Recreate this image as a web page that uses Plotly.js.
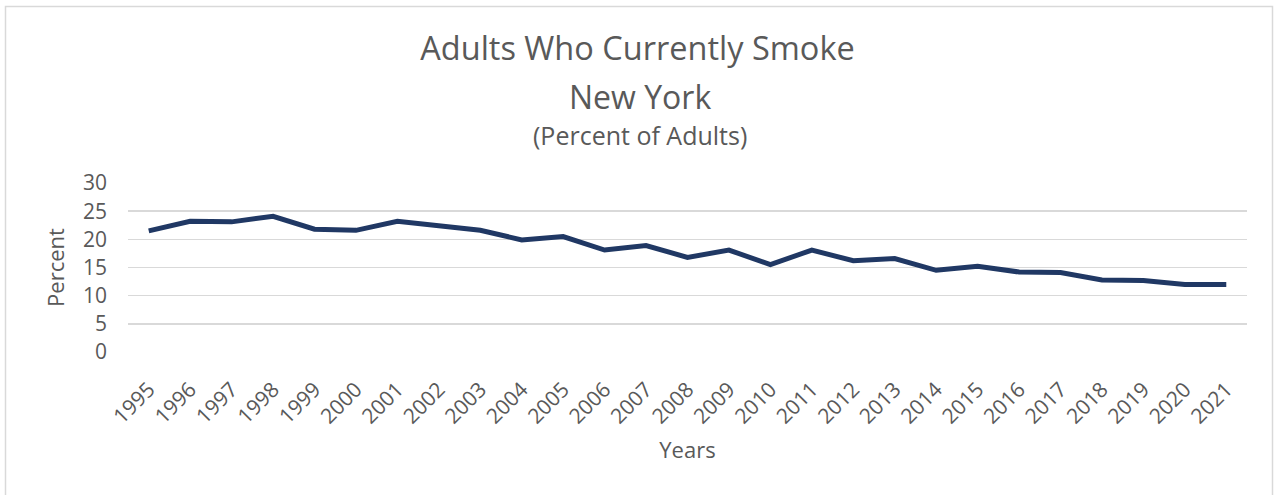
<!DOCTYPE html>
<html>
<head>
<meta charset="utf-8">
<script src="https://cdn.plot.ly/plotly-3.0.1.min.js"></script>
<style>html,body{margin:0;padding:0;background:#fff;}#chart{width:1275px;height:495px;}</style>
</head>
<body>
<div id="chart"></div>
<script>
const years = ["1995","1996","1997","1998","1999","2000","2001","2002","2003","2004","2005","2006","2007","2008","2009","2010","2011","2012","2013","2014","2015","2016","2017","2018","2019","2020","2021"];
const percentSmoking = [21.5,23.2,23.1,24.1,21.8,21.6,23.2,22.3,21.6,19.9,20.5,18.1,18.9,16.8,18.1,15.5,18.1,16.2,16.6,14.5,15.2,14.2,14.1,12.8,12.7,12.0,12.0];
const yTicks = [0,5,10,15,20,25,30];

const font = "'Open Sans', 'Liberation Sans', sans-serif";
const grey = "#595959";

const trace = {
  type: "scatter",
  mode: "lines",
  x: years,
  y: percentSmoking,
  line: {color: "#203864", width: 5},
  hoverinfo: "x+y"
};

const cx = (640 - 128) / 1119;

const layout = {
  width: 1275,
  height: 495,
  margin: {l: 128, r: 28, t: 183, b: 143},
  paper_bgcolor: "#ffffff",
  plot_bgcolor: "#ffffff",
  showlegend: false,
  font: {family: font, color: grey},
  title: {
    text: "Adults Who Currently Smoke",
    font: {family: font, size: 32.5, color: grey},
    x: 0.5, xref: "container", xanchor: "center",
    y: 1 - 49/495, yref: "container", yanchor: "middle"
  },
  annotations: [
    {text: "New York", xref: "paper", yref: "paper", x: cx, y: (352-95)/170, xanchor: "center", yanchor: "middle", showarrow: false, font: {family: font, size: 32, color: grey}},
    {text: "(Percent of Adults)", xref: "paper", yref: "paper", x: cx, y: (352-134)/170, xanchor: "center", yanchor: "middle", showarrow: false, font: {family: font, size: 25, color: grey}}
  ],
  shapes: [
    {type: "rect", xref: "paper", yref: "paper", x0: (5.5-128)/1119, x1: (1272.5-128)/1119, y0: (352-505)/170, y1: (352-4.5)/170, line: {color: "#d9d9d9", width: 1.5}, fillcolor: "rgba(0,0,0,0)", layer: "below"}
  ],
  xaxis: {
    type: "category",
    range: [-0.5, years.length - 0.5],
    tickangle: -45,
    tickfont: {family: font, size: 21, color: grey},
    showgrid: false,
    showline: false,
    zeroline: false,
    ticks: "",
    ticklabelstandoff: 20,
    automargin: false,
    title: {text: "Years", font: {family: font, size: 22, color: grey}, standoff: 14}
  },
  yaxis: {
    range: [0, 30],
    tickvals: yTicks,
    ticktext: yTicks.map(String),
    tickfont: {family: font, size: 21, color: grey},
    showgrid: true,
    gridcolor: "#d9d9d9",
    gridwidth: 1.5,
    zeroline: false,
    showline: false,
    ticks: "",
    ticklabelstandoff: 20,
    automargin: false,
    title: {text: "Percent", font: {family: font, size: 22, color: grey}, standoff: 12}
  }
};

Plotly.newPlot("chart", [trace], layout, {displayModeBar: false, staticPlot: true});
</script>
</body>
</html>
